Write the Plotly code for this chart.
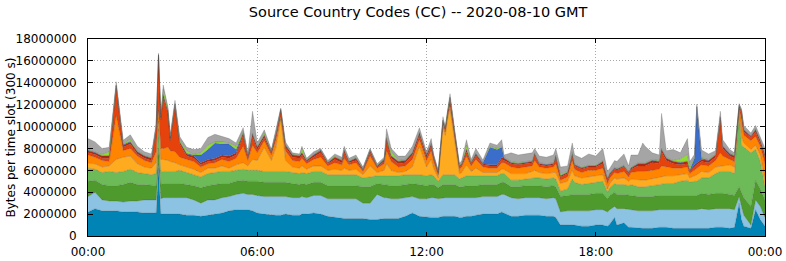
import plotly.graph_objects as go

times = ["00:00","00:15","00:30","00:45","01:00","01:15","01:30","01:45","02:00","02:15",
         "02:25","02:30","02:35","02:40","02:50","02:55","03:05","03:15","03:30","03:45",
         "04:00","04:15","04:30","04:45","05:00","05:15","05:30","05:40","05:50","06:00",
         "06:15","06:30","06:40","06:50","07:00","07:15","07:30","07:35","07:45","08:00",
         "08:15","08:30","08:45","09:00","09:05","09:15","09:30","09:45","10:00","10:15",
         "10:30","10:35","10:45","11:00","11:15","11:30","11:45","12:00","12:10","12:15",
         "12:25","12:35","12:40","12:45","12:50","13:00","13:10","13:15","13:25","13:35",
         "13:45","14:00","14:15","14:30","14:40","14:45","15:00","15:15","15:30","15:45",
         "15:50","16:00","16:15","16:30","16:35","16:45","17:00","17:10","17:15","17:30",
         "17:45","18:00","18:15","18:25","18:30","18:40","18:45","19:00","19:10","19:15",
         "19:30","19:40","19:45","20:00","20:15","20:20","20:30","20:45","21:00","21:15",
         "21:20","21:30","21:35","21:45","22:00","22:15","22:25","22:30","22:45","22:55",
         "23:05","23:10","23:15","23:30","23:40","23:50","24:00"]

# values in millions of bytes per 300 s slot, bottom layer first
cc_1 = [2.2,2.5,2.3,2.3,2.3,2.2,2.2,2.2,2.1,2.1,
        2.1,6.2,2.0,2.0,2.0,2.0,2.0,2.0,1.9,1.9,
        1.8,1.9,2.0,2.1,2.3,2.4,2.4,2.4,2.3,2.1,
        2.0,1.9,1.9,1.9,2.0,1.9,1.9,2.0,2.0,2.1,
        2.0,1.8,1.7,1.6,1.6,1.6,1.6,1.6,1.5,1.5,
        1.6,1.6,1.6,1.6,1.8,2.1,1.8,1.7,1.7,1.7,
        1.7,1.8,1.8,1.8,1.8,1.8,1.7,1.7,1.8,1.8,
        1.9,2.0,2.0,2.0,2.2,2.1,1.8,1.8,1.9,1.9,
        1.9,1.9,1.8,1.8,1.7,1.0,1.0,1.0,1.0,0.9,
        0.9,1.0,1.0,0.9,1.1,1.7,1.0,1.2,0.8,0.8,
        0.7,0.7,0.7,0.7,0.8,0.8,0.8,0.7,0.7,0.7,
        0.7,0.7,0.7,0.7,0.7,0.8,0.8,0.8,0.7,0.8,
        3.0,1.5,0.9,0.7,2.4,1.5,0.9]
cc_2 = [1.4,1.5,1.0,0.9,0.9,0.9,1.0,1.0,1.2,1.2,
        1.2,0.4,1.4,1.5,1.5,1.5,1.5,1.5,1.6,1.4,
        1.2,1.4,1.3,1.4,1.3,1.4,1.5,1.4,1.5,1.6,
        1.6,1.7,1.7,1.7,1.6,1.6,1.6,1.6,1.5,1.6,
        1.7,1.6,1.7,1.8,1.8,1.8,1.8,1.4,1.5,2.3,
        1.9,1.9,1.8,1.8,1.7,1.5,1.6,1.7,1.8,1.8,
        1.7,1.7,1.7,1.7,1.7,1.7,1.8,1.8,1.7,1.7,
        1.6,1.6,1.6,1.6,1.6,1.7,1.7,1.6,1.6,1.6,
        1.6,1.6,1.6,1.7,1.7,1.2,1.3,1.3,1.3,1.4,
        1.4,1.4,1.4,1.3,1.3,1.0,1.5,1.3,1.6,1.6,
        1.6,1.6,1.6,1.6,1.6,1.6,1.6,1.7,1.7,1.7,
        1.7,1.7,1.7,1.8,1.7,1.7,1.7,1.7,1.8,1.6,
        0.6,1.2,1.0,0.3,0.9,1.2,0.8]
cc_3 = [1.4,1.1,1.4,1.4,1.4,1.6,1.7,1.5,1.4,1.3,
        1.3,1.4,1.3,1.3,1.3,1.3,1.3,1.3,1.2,1.3,
        1.4,1.3,1.4,1.3,1.2,1.2,1.2,1.2,1.2,1.3,
        1.3,1.3,1.3,1.3,1.3,1.3,1.2,1.2,1.2,1.2,
        1.2,1.2,1.2,1.2,1.2,1.2,1.2,1.5,1.5,1.0,
        1.2,1.2,1.2,1.2,1.2,1.2,1.3,1.2,1.2,1.2,
        1.0,1.2,1.2,1.2,1.2,1.2,1.0,1.0,1.1,1.1,
        1.1,1.1,1.1,1.1,1.1,1.1,1.0,1.1,1.1,1.1,
        1.1,1.1,1.1,1.1,1.1,1.4,1.4,1.5,1.5,1.5,
        1.5,1.5,1.5,1.2,1.3,1.3,1.3,1.3,1.3,1.3,
        1.3,1.3,1.3,1.3,1.3,1.3,1.3,1.3,1.3,1.3,
        1.3,1.3,1.3,1.4,1.4,1.4,1.4,1.4,1.3,1.3,
        0.9,1.3,1.6,1.7,1.8,1.6,1.6]
cc_4 = [1.2,1.0,1.1,1.3,1.2,1.2,1.2,1.1,1.0,1.0,
        1.1,1.8,1.1,1.1,1.1,1.1,1.1,1.2,1.1,1.0,
        1.0,1.1,1.1,1.1,1.1,1.0,1.0,1.0,1.0,1.0,
        1.0,1.0,1.0,1.0,1.0,1.0,1.0,1.0,1.0,1.0,
        1.0,1.0,1.0,1.0,1.0,1.0,1.0,0.8,0.9,0.7,
        0.8,0.8,0.9,0.9,0.9,0.8,0.9,0.9,0.9,0.8,
        0.6,0.9,0.9,0.9,0.9,0.9,0.7,0.8,0.9,0.9,
        0.9,0.8,0.8,0.8,0.8,0.8,0.6,0.6,0.6,0.7,
        0.7,0.7,0.7,0.7,0.7,0.5,0.6,1.4,1.1,0.9,
        1.0,1.0,1.1,0.6,0.7,0.8,0.9,0.9,0.9,1.0,
        0.9,0.9,0.9,1.0,1.0,1.0,1.1,1.1,1.3,1.4,
        1.2,1.3,1.3,1.4,1.5,1.8,2.0,2.0,2.1,2.0,
        6.7,4.3,4.6,4.9,2.8,2.5,1.2]
cc_5 = [0.45,0.5,0.5,0.5,1.2,1.3,1.2,0.8,0.6,0.6,
        1.0,0.7,1.2,1.1,1.0,0.9,0.8,0.5,0.5,0.5,
        0.4,0.5,0.4,0.5,0.3,0.5,0.6,0.4,1.0,0.9,
        2.2,1.0,2.2,4.8,1.0,0.5,0.5,0.6,0.4,0.5,
        0.5,0.4,0.5,0.4,0.6,0.4,0.5,0.3,1.0,0.3,
        0.5,1.1,0.5,0.3,0.3,0.7,2.6,0.8,1.4,0.7,
        0.3,4.3,3.6,5.1,6.0,3.0,0.5,0.5,1.0,0.4,
        0.7,0.3,0.3,0.3,0.4,0.4,0.6,0.6,0.5,0.6,
        0.7,0.5,0.5,0.5,0.6,0.7,0.7,0.8,0.6,0.6,
        0.6,0.6,0.6,0.3,0.4,0.5,0.5,0.6,0.4,0.5,
        0.6,0.6,0.6,0.6,0.6,0.7,0.7,0.7,0.6,0.6,
        0.4,0.5,0.6,0.6,0.5,0.6,0.5,0.5,0.6,0.6,
        0.2,0.8,0.4,0.3,0.4,0.6,0.6]
cc_6 = [0.75,0.6,0.6,0.4,4.0,0.6,0.7,0.7,0.6,0.5,
        1.0,1.0,1.0,1.0,1.2,1.0,1.0,0.7,0.7,0.7,
        0.5,0.4,0.5,0.6,0.6,0.6,1.5,0.5,1.3,0.7,
        0.6,0.5,0.7,0.2,0.9,0.6,0.6,0.7,0.5,0.6,
        0.8,0.4,0.6,0.5,0.9,0.5,0.6,0.3,0.9,0.4,
        0.6,1.2,0.8,0.5,0.5,0.7,0.6,0.6,0.8,0.6,
        0.3,0.3,0.3,0.3,0.3,0.5,0.4,0.5,0.8,0.5,
        0.8,0.5,0.4,0.4,0.6,0.6,0.6,0.5,0.6,0.5,
        0.9,0.5,0.5,0.5,0.8,0.3,0.4,0.9,0.6,0.5,
        0.6,0.5,0.6,0.5,0.5,0.5,0.5,0.6,0.4,0.6,
        0.8,0.8,0.8,0.8,0.8,1.0,0.8,0.7,0.6,0.6,
        0.4,0.5,0.6,0.6,0.6,0.6,1.2,0.9,0.5,0.5,
        0.2,1.5,0.7,0.8,0.8,0.8,1.5]
cc_7 = [0.2,0.25,0.2,0.3,2.5,0.3,0.4,0.2,0.2,0.2,
        2.0,4.8,2.6,4.7,3.1,0.9,4.1,1.2,0.3,0.3,
        0.2,0.2,0.2,0.2,0.3,0.3,1.0,0.2,0.8,0.3,
        0.3,0.2,0.4,0.5,0.3,0.3,0.3,0.3,0.2,0.2,
        0.4,0.2,0.3,0.2,0.5,0.2,0.2,0.1,0.3,0.1,
        0.2,0.9,0.3,0.3,0.3,0.4,0.4,0.3,0.4,0.3,
        0.1,0.2,0.2,0.3,0.6,0.2,0.2,0.2,0.4,0.2,
        0.3,0.2,0.2,0.2,0.3,0.2,0.3,0.3,0.3,0.3,
        0.5,0.2,0.2,0.2,0.6,0.3,0.3,0.4,0.3,0.3,
        0.3,0.3,0.4,0.3,0.3,0.3,0.3,0.4,0.3,0.3,
        0.5,0.5,0.5,0.7,0.5,1.3,0.6,0.4,0.3,0.3,
        0.2,0.3,0.3,0.3,0.3,0.3,3.0,0.7,0.3,0.3,
        0.2,0.6,0.3,0.3,0.4,0.3,0.6]
cc_8 = [0.2,0.15,0.2,0.2,0.2,0.2,0.2,0.2,0.2,0.2,
        0.2,0.2,0.2,0.2,0.2,0.2,0.2,0.2,0.2,0.2,
        0.2,0.2,0.2,0.2,0.2,0.2,0.2,0.2,0.2,0.2,
        0.2,0.1,0.2,0.1,0.2,0.2,0.2,0.2,0.1,0.2,
        0.2,0.1,0.2,0.2,0.2,0.1,0.2,0.1,0.2,0.1,
        0.2,0.2,0.2,0.2,0.2,0.2,0.2,0.2,0.2,0.2,
        0.1,0.1,0.1,0.1,0.1,0.1,0.1,0.1,0.2,0.1,
        0.2,0.1,0.1,0.1,0.2,0.2,0.1,0.1,0.1,0.1,
        0.1,0.1,0.1,0.1,0.1,0.1,0.1,0.2,0.1,0.1,
        0.1,0.1,0.2,0.1,0.1,0.1,0.1,0.1,0.1,0.1,
        0.2,0.2,0.2,0.2,0.2,0.2,0.2,0.2,0.2,0.2,
        0.1,0.2,0.2,0.2,0.2,0.2,0.2,0.2,0.2,0.2,
        0.1,0.2,0.2,0.1,0.2,0.2,0.2]
cc_9 = [0.05,0.05,0.05,0.05,0.05,0.05,0.05,0.05,0.05,0.05,
        0.05,0.05,0.05,0.05,0.05,0.05,0.05,0.05,0.05,0.1,
        0.7,0.9,1.4,1.0,1.1,0.3,0.05,0.05,0.05,0.05,
        0.05,0.05,0.05,0.05,0.05,0.05,0.05,0.05,0.05,0.05,
        0.05,0.05,0.05,0.05,0.05,0.05,0.05,0.05,0.05,0.05,
        0.05,0.05,0.05,0.05,0.05,0.05,0.05,0.05,0.05,0.05,
        0.05,0.05,0.05,0.05,0.05,0.05,0.05,0.05,0.05,0.05,
        0.05,0.1,1.6,1.4,0.9,0.05,0.05,0.05,0.05,0.05,
        0.05,0.05,0.05,0.05,0.05,0.05,0.05,0.05,0.05,0.05,
        0.05,0.05,0.05,0.05,0.05,0.05,0.05,0.05,0.05,0.05,
        0.05,0.05,0.05,0.05,0.05,0.05,0.05,0.05,0.05,0.05,
        0.05,0.6,5.1,0.1,0.05,0.05,0.05,0.05,0.05,0.05,
        0.05,0.05,0.05,0.05,0.05,0.05,0.05]
cc_10 = [0.05,0.05,0.1,0.35,0.05,0.05,0.2,0.05,0.05,0.05,
         0.05,0.05,0.05,0.45,0.15,0.05,0.05,0.15,0.25,0.05,
         0.2,0.4,0.1,0.2,0.1,0.3,0.1,0.05,0.05,0.05,
         0.15,0.05,0.1,0.05,0.05,0.05,0.05,0.35,0.05,0.05,
         0.05,0.05,0.05,0.05,0.05,0.05,0.05,0.05,0.05,0.05,
         0.05,0.05,0.35,0.05,0.05,0.05,0.05,0.05,0.05,0.05,
         0.05,0.05,0.05,0.05,0.05,0.05,0.05,0.05,0.35,0.05,
         0.05,0.05,0.1,0.1,0.1,0.05,0.05,0.05,0.05,0.05,
         0.05,0.05,0.05,0.05,0.05,0.15,0.05,0.15,0.05,0.05,
         0.05,0.05,0.05,0.05,0.05,0.05,0.05,0.05,0.05,0.05,
         0.05,0.05,0.05,0.05,0.05,0.05,0.05,0.05,0.3,0.6,
         0.25,0.05,0.05,0.05,0.05,0.05,0.05,0.05,0.05,0.05,
         0.05,0.05,0.05,0.05,0.05,0.05,0.05]
cc_11 = [1.0,0.9,0.55,0.4,0.3,0.35,0.4,0.4,0.3,0.3,
         0.3,0.1,0.2,0.4,0.2,0.3,0.3,0.3,0.3,0.45,
         0.4,0.7,0.7,0.5,0.4,0.3,0.35,0.2,2.0,0.3,
         0.3,0.1,0.2,0.1,0.2,0.1,0.1,0.2,0.1,0.2,
         0.1,0.1,0.2,0.2,0.3,0.2,0.2,0.1,0.1,0.1,
         0.1,0.8,0.3,0.4,0.3,0.5,0.4,0.2,0.4,0.1,
         0.1,0.3,0.1,0.2,0.3,0.2,0.1,0.2,0.5,0.2,
         0.4,0.2,0.3,0.3,0.6,0.2,0.8,0.7,0.7,0.7,
         0.4,0.6,0.6,0.7,0.6,0.6,0.5,0.8,0.8,0.8,
         1.0,0.8,1.1,0.6,0.4,0.6,0.6,1.0,0.5,1.1,
         0.7,1.8,1.5,0.6,0.5,3.2,0.6,1.0,0.55,1.45,
         0.5,0.3,0.2,0.7,0.5,0.3,0.5,0.5,0.3,0.2,
         0.1,0.1,0.3,0.2,0.3,0.3,0.5]

layers = [cc_1, cc_2, cc_3, cc_4, cc_5, cc_6, cc_7, cc_8, cc_9, cc_10, cc_11]
colors = ["#0083b5", "#8cc3e3", "#4e9a2c", "#6dbb58", "#ffab1f", "#ff8400",
          "#e6420b", "#b32a14", "#3b6dcb", "#8fdc33", "#a5a5a5"]
names = ["CC1", "CC2", "CC3", "CC4", "CC5", "CC6", "CC7", "CC8", "CC9", "CC10", "CC11"]

def to_dt(t):
    if t == "24:00":
        return "2020-08-11 00:00"
    return "2020-08-10 " + t

x = [to_dt(t) for t in times]

fig = go.Figure()
for vals, col, nm in zip(layers, colors, names):
    fig.add_trace(go.Scatter(
        x=x, y=[v * 1e6 for v in vals], name=nm, mode="lines",
        stackgroup="one", fillcolor=col,
        line=dict(width=0.6, color="rgba(60,60,60,0.35)"),
        hoverinfo="skip"))

font = "DejaVu Sans"
fig.update_layout(
    width=786, height=261,
    margin=dict(l=88, r=21, t=39, b=25, autoexpand=False),
    paper_bgcolor="white", plot_bgcolor="white",
    showlegend=False,
    font=dict(family=font, size=12, color="black"),
    title=dict(text="Source Country Codes (CC) -- 2020-08-10 GMT",
               x=0.532, xref="container", xanchor="center",
               y=1 - 12 / 261, yref="container", yanchor="middle",
               font=dict(family=font, size=14.5, color="black")),
    annotations=[dict(text="Bytes per time slot (300 s)", textangle=-90,
                      xref="paper", yref="paper", x=(10 - 88) / 677, y=0.5,
                      xanchor="center", yanchor="middle", showarrow=False,
                      font=dict(family=font, size=12, color="black"))],
)
fig.update_xaxes(
    type="date", automargin=False,
    range=["2020-08-10 00:00", "2020-08-11 00:00"],
    tickformat="%H:%M", dtick=6 * 3600000,
    showgrid=True, gridcolor="#a8a8a8", griddash="1px,2px", gridwidth=1,
    showline=True, linecolor="black", linewidth=1, mirror="ticks",
    ticks="inside", ticklen=4, tickcolor="black",
    tickfont=dict(family=font, size=12),
    ticklabelstandoff=5,
)
fig.update_yaxes(
    automargin=False,
    range=[0, 18000000], dtick=2000000, tickformat="d",
    showgrid=True, gridcolor="#a8a8a8", griddash="1px,2px", gridwidth=1,
    showline=True, linecolor="black", linewidth=1, mirror="ticks",
    ticks="inside", ticklen=5, tickcolor="black",
    tickfont=dict(family=font, size=12),
    ticklabelstandoff=8,
    zeroline=False,
)

fig.write_html("out.html")
